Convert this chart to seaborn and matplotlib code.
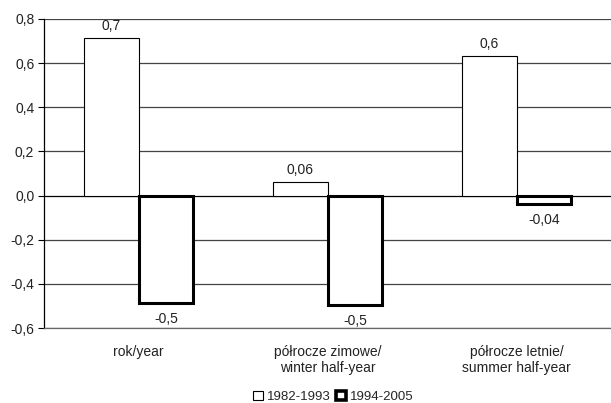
import matplotlib
matplotlib.use("Agg")
import matplotlib.pyplot as plt
from matplotlib.patches import Patch
import seaborn as sns
import pandas as pd

categories = ["rok/year", "półrocze zimowe/\nwinter half-year", "półrocze letnie/\nsummer half-year"]
series = ["1982-1993", "1994-2005"]
values_1982_1993 = [0.716, 0.06, 0.632]
values_1994_2005 = [-0.488, -0.496, -0.038]
y_ticks = [-0.6, -0.4, -0.2, 0.0, 0.2, 0.4, 0.6, 0.8]

df = pd.DataFrame({
    "category": categories * 2,
    "period": [series[0]] * 3 + [series[1]] * 3,
    "value": values_1982_1993 + values_1994_2005,
})

sns.set_theme(style="white")
plt.rcParams["font.family"] = ["Liberation Sans", "DejaVu Sans"]

fig = plt.figure(figsize=(6.11, 4.03), dpi=100)
ax = fig.add_axes([44 / 611, 1 - 328 / 403, 567 / 611, 309 / 403])

sns.barplot(data=df, x="category", y="value", hue="period", order=categories,
            hue_order=series, width=0.58, gap=0, ax=ax, legend=False,
            palette=["white", "white"], saturation=1)

n = len(categories)
for i, patch in enumerate(ax.patches):
    patch.set_edgecolor("black")
    patch.set_linewidth(0.8 if i < n else 2.2)
    patch.set_zorder(3)

# value labels, rounded to one significant digit, Polish decimal comma
for i, patch in enumerate(ax.patches):
    val = df["value"].iloc[i]
    txt = ("%.1g" % val).replace(".", ",")
    cx = patch.get_x() + patch.get_width() / 2
    if val >= 0:
        ax.annotate(txt, (cx, val), xytext=(0, 3.5), textcoords="offset points",
                    ha="center", va="bottom", fontsize=10, color="#222222")
    else:
        ax.annotate(txt, (cx, val), xytext=(0, -6.5), textcoords="offset points",
                    ha="center", va="top", fontsize=10, color="#222222")

ax.set_ylim(-0.6, 0.8)
ax.set_yticks(y_ticks)
ax.set_yticklabels([("%.1f" % t).replace(".", ",") for t in y_ticks], fontsize=10, color="#222222")
ax.set_xlim(-0.5, n - 0.5)
ax.set_xlabel("")
ax.set_ylabel("")
ax.tick_params(axis="x", labelsize=10, colors="#222222", length=0, pad=12)
ax.tick_params(axis="y", length=4, width=0.8, color="black", left=True, pad=3)

for t in y_ticks:
    ax.axhline(t, color="black" if t == 0 else "#444444", lw=0.9, zorder=1)

for s in ["top", "right"]:
    ax.spines[s].set_visible(False)
ax.spines["left"].set_color("black")
ax.spines["left"].set_linewidth(0.9)
ax.spines["bottom"].set_color("#666666")
ax.spines["bottom"].set_linewidth(0.9)

handles = [Patch(facecolor="white", edgecolor="black", linewidth=0.8),
           Patch(facecolor="white", edgecolor="black", linewidth=2.6)]
fig.legend(handles, series, loc="center", bbox_to_anchor=(333 / 611, 1 - 397 / 403), ncol=2,
           frameon=False, fontsize=9.5, handlelength=0.75, handleheight=0.75,
           handletextpad=0.3, columnspacing=0.4, borderpad=0)

fig.savefig("out.png", dpi=100)
